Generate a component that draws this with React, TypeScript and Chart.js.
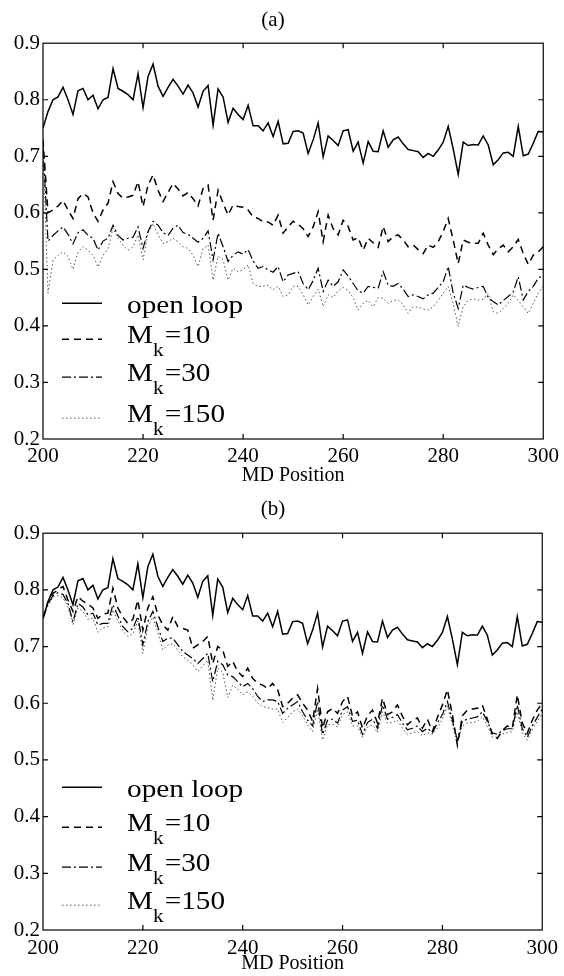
import React, { useEffect, useRef } from 'react';
import { Chart, registerables } from 'chart.js';

Chart.register(...registerables);

// ---------- data ----------
const positions = Array.from({ length: 101 }, (_, i) => 200 + i);
const xTickValues = [200, 220, 240, 260, 280, 300];
const yTickValues = [0.2, 0.3, 0.4, 0.5, 0.6, 0.7, 0.8, 0.9];
const seriesNames = ['open loop', 'M_k=10', 'M_k=30', 'M_k=150'];
const panelTitles = ['(a)', '(b)'];
const xAxisTitle = 'MD Position';

const openLoop = [
  0.750, 0.779, 0.800, 0.805, 0.822, 0.800, 0.774, 0.816, 0.820, 0.800,
  0.808, 0.784, 0.800, 0.804, 0.855, 0.820, 0.815, 0.809, 0.800, 0.846,
  0.786, 0.841, 0.863, 0.824, 0.806, 0.822, 0.836, 0.824, 0.810, 0.826,
  0.812, 0.787, 0.815, 0.825, 0.755, 0.819, 0.805, 0.760, 0.785, 0.774,
  0.765, 0.790, 0.754, 0.754, 0.745, 0.759, 0.735, 0.762, 0.722, 0.723,
  0.744, 0.745, 0.741, 0.705, 0.729, 0.759, 0.699, 0.736, 0.728, 0.719,
  0.745, 0.747, 0.709, 0.725, 0.688, 0.726, 0.709, 0.708, 0.745, 0.716,
  0.729, 0.734, 0.722, 0.712, 0.710, 0.708, 0.698, 0.705, 0.700, 0.711,
  0.725, 0.753, 0.713, 0.668, 0.725, 0.719, 0.721, 0.720, 0.736, 0.720,
  0.685, 0.694, 0.706, 0.707, 0.700, 0.753, 0.701, 0.704, 0.723, 0.744,
  0.743,
];

const mk10A = [
  0.730, 0.600, 0.605, 0.612, 0.622, 0.605, 0.590, 0.625, 0.634, 0.628,
  0.600, 0.585, 0.605, 0.617, 0.655, 0.634, 0.626, 0.628, 0.631, 0.655,
  0.611, 0.649, 0.667, 0.640, 0.620, 0.636, 0.652, 0.642, 0.630, 0.636,
  0.625, 0.612, 0.643, 0.649, 0.587, 0.640, 0.617, 0.596, 0.614, 0.611,
  0.610, 0.605, 0.593, 0.590, 0.584, 0.584, 0.578, 0.596, 0.564, 0.575,
  0.585, 0.580, 0.572, 0.558, 0.575, 0.602, 0.549, 0.596, 0.572, 0.561,
  0.587, 0.576, 0.552, 0.556, 0.534, 0.555, 0.547, 0.539, 0.576, 0.549,
  0.558, 0.561, 0.552, 0.540, 0.543, 0.535, 0.528, 0.543, 0.539, 0.549,
  0.567, 0.590, 0.552, 0.510, 0.552, 0.548, 0.546, 0.546, 0.564, 0.543,
  0.526, 0.536, 0.543, 0.531, 0.540, 0.553, 0.528, 0.509, 0.525, 0.531,
  0.540,
];

const mk30A = [
  0.720, 0.550, 0.560, 0.568, 0.575, 0.562, 0.545, 0.565, 0.570, 0.560,
  0.555, 0.534, 0.550, 0.555, 0.578, 0.560, 0.552, 0.555, 0.557, 0.575,
  0.537, 0.567, 0.585, 0.578, 0.565, 0.560, 0.573, 0.578, 0.565, 0.562,
  0.555, 0.548, 0.555, 0.568, 0.517, 0.564, 0.540, 0.514, 0.525, 0.531,
  0.527, 0.535, 0.515, 0.502, 0.505, 0.499, 0.495, 0.505, 0.478, 0.490,
  0.493, 0.496, 0.475, 0.464, 0.480, 0.502, 0.461, 0.481, 0.470, 0.478,
  0.499, 0.488, 0.475, 0.462, 0.458, 0.470, 0.468, 0.467, 0.496, 0.472,
  0.470, 0.475, 0.465, 0.452, 0.455, 0.452, 0.448, 0.455, 0.458, 0.468,
  0.478, 0.505, 0.458, 0.431, 0.472, 0.468, 0.465, 0.468, 0.470, 0.450,
  0.443, 0.437, 0.445, 0.452, 0.460, 0.487, 0.446, 0.461, 0.470, 0.484,
  0.490,
];

const mk150A = [
  0.720, 0.458, 0.517, 0.525, 0.531, 0.523, 0.500, 0.531, 0.540, 0.534,
  0.525, 0.504, 0.525, 0.537, 0.573, 0.555, 0.543, 0.534, 0.540, 0.561,
  0.517, 0.564, 0.581, 0.561, 0.546, 0.549, 0.555, 0.549, 0.540, 0.537,
  0.525, 0.505, 0.537, 0.543, 0.481, 0.523, 0.517, 0.481, 0.502, 0.496,
  0.499, 0.508, 0.475, 0.470, 0.470, 0.472, 0.464, 0.470, 0.452, 0.455,
  0.470, 0.470, 0.455, 0.437, 0.452, 0.465, 0.434, 0.455, 0.450, 0.462,
  0.468, 0.462, 0.450, 0.428, 0.440, 0.445, 0.434, 0.450, 0.449, 0.440,
  0.445, 0.446, 0.438, 0.422, 0.434, 0.433, 0.430, 0.428, 0.434, 0.445,
  0.458, 0.470, 0.440, 0.399, 0.434, 0.445, 0.448, 0.446, 0.447, 0.458,
  0.425, 0.422, 0.430, 0.440, 0.455, 0.445, 0.434, 0.422, 0.440, 0.458,
  0.470,
];

const mk10B = [
  0.750, 0.779, 0.794, 0.800, 0.806, 0.782, 0.762, 0.788, 0.780, 0.775,
  0.768, 0.750, 0.757, 0.759, 0.803, 0.768, 0.752, 0.741, 0.748, 0.782,
  0.729, 0.768, 0.788, 0.756, 0.738, 0.729, 0.753, 0.735, 0.732, 0.729,
  0.697, 0.703, 0.709, 0.718, 0.670, 0.700, 0.694, 0.665, 0.674, 0.656,
  0.647, 0.662, 0.644, 0.635, 0.632, 0.626, 0.635, 0.624, 0.594, 0.600,
  0.609, 0.615, 0.600, 0.588, 0.568, 0.626, 0.556, 0.585, 0.591, 0.582,
  0.603, 0.612, 0.577, 0.585, 0.556, 0.578, 0.588, 0.565, 0.609, 0.580,
  0.585, 0.597, 0.577, 0.562, 0.570, 0.574, 0.556, 0.572, 0.550, 0.575,
  0.597, 0.624, 0.580, 0.526, 0.578, 0.588, 0.590, 0.591, 0.597, 0.572,
  0.545, 0.538, 0.552, 0.560, 0.556, 0.615, 0.565, 0.547, 0.570, 0.588,
  0.600,
];

const mk30B = [
  0.750, 0.775, 0.790, 0.795, 0.792, 0.776, 0.744, 0.776, 0.770, 0.756,
  0.759, 0.738, 0.741, 0.741, 0.774, 0.754, 0.735, 0.726, 0.732, 0.753,
  0.703, 0.744, 0.762, 0.735, 0.709, 0.715, 0.715, 0.703, 0.691, 0.685,
  0.679, 0.670, 0.679, 0.688, 0.638, 0.674, 0.668, 0.650, 0.647, 0.638,
  0.629, 0.635, 0.626, 0.612, 0.603, 0.606, 0.606, 0.603, 0.582, 0.591,
  0.597, 0.603, 0.585, 0.570, 0.560, 0.603, 0.545, 0.570, 0.572, 0.565,
  0.588, 0.594, 0.568, 0.570, 0.545, 0.566, 0.572, 0.556, 0.597, 0.572,
  0.575, 0.580, 0.565, 0.553, 0.556, 0.560, 0.550, 0.556, 0.548, 0.565,
  0.580, 0.603, 0.570, 0.535, 0.568, 0.572, 0.574, 0.576, 0.585, 0.568,
  0.548, 0.545, 0.552, 0.555, 0.555, 0.597, 0.555, 0.540, 0.560, 0.575,
  0.590,
];

const mk150B = [
  0.750, 0.772, 0.788, 0.790, 0.786, 0.770, 0.738, 0.768, 0.762, 0.748,
  0.750, 0.725, 0.733, 0.735, 0.765, 0.745, 0.728, 0.718, 0.722, 0.745,
  0.688, 0.735, 0.752, 0.725, 0.694, 0.703, 0.705, 0.694, 0.682, 0.676,
  0.668, 0.656, 0.666, 0.676, 0.605, 0.662, 0.655, 0.610, 0.632, 0.625,
  0.615, 0.620, 0.612, 0.600, 0.594, 0.592, 0.590, 0.590, 0.566, 0.575,
  0.585, 0.590, 0.578, 0.562, 0.550, 0.590, 0.535, 0.562, 0.563, 0.558,
  0.580, 0.585, 0.560, 0.560, 0.540, 0.558, 0.562, 0.548, 0.585, 0.565,
  0.566, 0.570, 0.556, 0.545, 0.548, 0.550, 0.543, 0.548, 0.545, 0.556,
  0.572, 0.595, 0.562, 0.528, 0.560, 0.565, 0.566, 0.568, 0.576, 0.560,
  0.540, 0.540, 0.546, 0.548, 0.550, 0.585, 0.548, 0.535, 0.553, 0.568,
  0.582,
];

// ---------- styles ----------
const FONT = "'Liberation Serif', 'Times New Roman', serif";
const STRETCH = 1.17;

const lineStyles = [
  { borderColor: '#000', borderWidth: 1.5, borderDash: [] as number[] },
  { borderColor: '#000', borderWidth: 1.5, borderDash: [7, 5] },
  { borderColor: '#000', borderWidth: 1.2, borderDash: [9, 3, 2, 3] },
  { borderColor: '#555', borderWidth: 1, borderDash: [1.5, 2.5] },
];

const boxPlugin = {
  id: 'boxTicks',
  afterDatasetsDraw(chart: any) {
    const { ctx, chartArea: a, scales } = chart;
    const xs = scales.x;
    const ys = scales.y;
    ctx.save();
    ctx.strokeStyle = '#000';
    ctx.lineWidth = 1.2;
    ctx.setLineDash([]);
    ctx.strokeRect(a.left, a.top, a.right - a.left, a.bottom - a.top);
    const L = 5;
    ctx.beginPath();
    xs.ticks.forEach((t: any) => {
      const px = xs.getPixelForValue(t.value);
      if (px <= a.left + 1 || px >= a.right - 1) return;
      ctx.moveTo(px, a.bottom);
      ctx.lineTo(px, a.bottom - L);
      ctx.moveTo(px, a.top);
      ctx.lineTo(px, a.top + L);
    });
    ys.ticks.forEach((t: any) => {
      const py = ys.getPixelForValue(t.value);
      if (py <= a.top + 1 || py >= a.bottom - 1) return;
      ctx.moveTo(a.left, py);
      ctx.lineTo(a.left + L, py);
      ctx.moveTo(a.right, py);
      ctx.lineTo(a.right - L, py);
    });
    ctx.stroke();
    ctx.restore();
  },
};

const legendPlugin = {
  id: 'mkLegend',
  afterDraw(chart: any, _args: any, opts: any) {
    const { ctx, chartArea: a } = chart;
    const rows: number[] = opts.rows;
    ctx.save();
    chart.data.datasets.forEach((ds: any, i: number) => {
      const y = a.top + rows[i];
      ctx.beginPath();
      ctx.strokeStyle = ds.borderColor;
      ctx.lineWidth = ds.borderWidth;
      ctx.setLineDash(ds.borderDash || []);
      ctx.moveTo(opts.lineX0, y);
      ctx.lineTo(opts.lineX1, y);
      ctx.stroke();
      ctx.setLineDash([]);
      ctx.fillStyle = '#000';
      ctx.textBaseline = 'alphabetic';
      ctx.textAlign = 'left';
      const label: string = ds.label;
      ctx.save();
      if (label.indexOf('_') >= 0) {
        const [main, rest] = label.split('_');
        const sub = rest.charAt(0);
        const tail = rest.slice(1);
        ctx.translate(opts.textX, y + 4);
        ctx.scale(STRETCH, 1);
        ctx.font = `25px ${FONT}`;
        ctx.fillText(main, 0, 0);
        const w1 = ctx.measureText(main).width;
        ctx.font = `18px ${FONT}`;
        ctx.fillText(sub, w1, 13);
        const w2 = ctx.measureText(sub).width;
        ctx.font = `25px ${FONT}`;
        ctx.fillText(tail, w1 + w2 + 1, 0);
      } else {
        ctx.translate(opts.textX, y + 10);
        ctx.scale(STRETCH, 1);
        ctx.font = `25px ${FONT}`;
        ctx.fillText(label, 0, 0);
      }
      ctx.restore();
    });
    ctx.restore();
  },
};

type PanelCfg = {
  title: string;
  series: number[][];
  titleTop: number;
  titleBottom: number;
  xAxisHeight: number;
  tickPad: number;
  rows: number[];
};

function makeConfig(p: PanelCfg): any {
  return {
    type: 'line',
    data: {
      labels: positions,
      datasets: p.series.map((s, i) => ({
        label: seriesNames[i],
        data: s,
        borderColor: lineStyles[i].borderColor,
        borderWidth: lineStyles[i].borderWidth,
        borderDash: lineStyles[i].borderDash,
        pointRadius: 0,
        tension: 0,
        fill: false,
      })),
    },
    options: {
      responsive: false,
      animation: false,
      devicePixelRatio: 1,
      layout: { padding: { left: 0, right: 18, top: 0, bottom: 0 } },
      plugins: {
        legend: { display: false },
        tooltip: { enabled: false },
        title: {
          display: true,
          text: p.title,
          color: '#000',
          font: { family: FONT, size: 21, weight: 'normal' },
          padding: { top: p.titleTop, bottom: p.titleBottom },
        },
        mkLegend: { rows: p.rows, lineX0: 62, lineX1: 102, textX: 127 },
      },
      scales: {
        x: {
          type: 'linear',
          min: 200,
          max: 300,
          afterBuildTicks: (scale: any) => {
            scale.ticks = xTickValues.map((v) => ({ value: v }));
          },
          afterFit: (scale: any) => {
            scale.height = p.xAxisHeight;
          },
          grid: { display: false, drawTicks: false },
          border: { display: false },
          ticks: {
            color: '#000',
            padding: p.tickPad,
            maxRotation: 0,
            autoSkip: false,
            font: { family: FONT, size: 21 },
            callback: (v: any) => String(v),
          },
          title: {
            display: true,
            text: xAxisTitle,
            color: '#000',
            font: { family: FONT, size: 20 },
            padding: { top: 0, bottom: 0 },
          },
        },
        y: {
          type: 'linear',
          min: 0.2,
          max: 0.9,
          afterBuildTicks: (scale: any) => {
            scale.ticks = yTickValues.map((v) => ({ value: v }));
          },
          afterFit: (scale: any) => {
            scale.width = 43;
          },
          grid: { display: false, drawTicks: false },
          border: { display: false },
          ticks: {
            color: '#000',
            padding: 3,
            autoSkip: false,
            font: { family: FONT, size: 21 },
            callback: (v: any) => Number(v).toFixed(1),
          },
        },
      },
    },
    plugins: [boxPlugin, legendPlugin],
  };
}

const panels: PanelCfg[] = [
  {
    title: panelTitles[0],
    series: [openLoop, mk10A, mk30A, mk150A],
    titleTop: 8,
    titleBottom: 10,
    xAxisHeight: 49,
    tickPad: 5,
    rows: [260, 296, 334, 375],
  },
  {
    title: panelTitles[1],
    series: [openLoop, mk10B, mk30B, mk150B],
    titleTop: 9,
    titleBottom: 11,
    xAxisHeight: 46,
    tickPad: 6,
    rows: [254, 294, 334, 372],
  },
];

function Panel({ cfg, top }: { cfg: PanelCfg; top: number }) {
  const ref = useRef<HTMLCanvasElement | null>(null);
  useEffect(() => {
    if (!ref.current) return;
    const chart = new Chart(ref.current, makeConfig(cfg));
    return () => chart.destroy();
  }, [cfg]);
  return (
    <canvas
      ref={ref}
      width={564}
      height={488}
      style={{ position: 'absolute', left: 0, top, width: 564, height: 488 }}
    />
  );
}

export default function App() {
  return (
    <div
      style={{
        position: 'absolute',
        left: 0,
        top: 0,
        width: 564,
        height: 976,
        background: '#fff',
        overflow: 'hidden',
      }}
    >
      <Panel cfg={panels[0]} top={0} />
      <Panel cfg={panels[1]} top={488} />
    </div>
  );
}
